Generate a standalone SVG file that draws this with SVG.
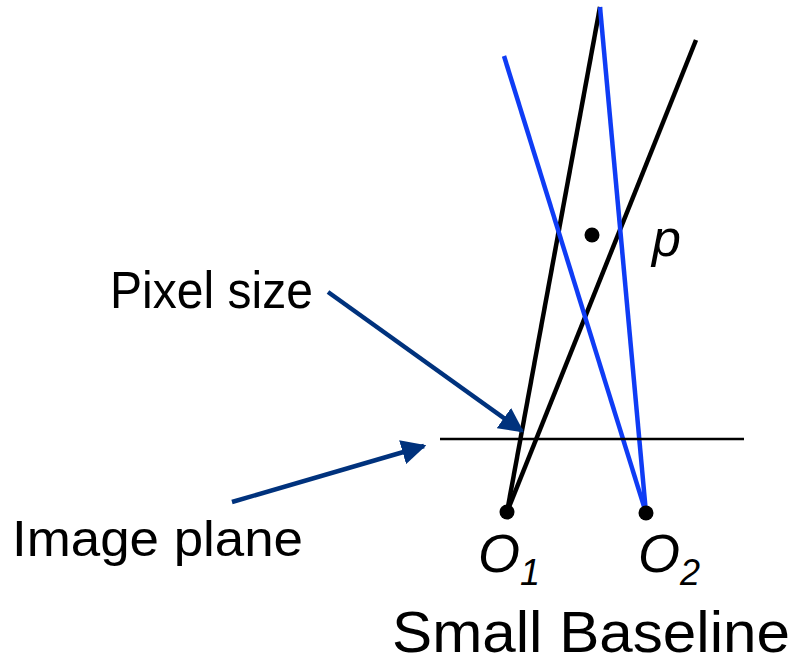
<svg xmlns="http://www.w3.org/2000/svg" width="797" height="664" viewBox="0 0 797 664">
<defs>
<style>
.ray{stroke:#000;stroke-width:4.5;fill:none;stroke-linecap:butt}
.blue{stroke:#0f3cf5;stroke-width:4.5;fill:none}
.ptr{stroke:#00327d;stroke-width:4.5;fill:none}
.lbl{font-family:"Liberation Sans",Arial,sans-serif;fill:#000}
.it{font-family:"Liberation Sans",Arial,sans-serif;font-style:italic;fill:#000}
</style>
<marker id="ah" viewBox="0 0 10 10" refX="9" refY="5" markerWidth="5.5" markerHeight="5.5" markerUnits="strokeWidth" orient="auto">
<path d="M0,0 L10,5 L0,10 z" fill="#00327d"/>
</marker>
</defs>
<rect width="797" height="664" fill="#fff"/>
<g id="connectors">
<line class="ray" x1="507" y1="512" x2="600" y2="7"/>
<line class="ray" x1="507" y1="512" x2="696" y2="40"/>
<line class="blue" x1="646" y1="513" x2="600" y2="7"/>
<line class="blue" x1="646" y1="513" x2="504" y2="56"/>
<line x1="440" y1="439" x2="744" y2="439" stroke="#000" stroke-width="2.5"/>
<line class="ptr" x1="328" y1="292" x2="522" y2="431" marker-end="url(#ah)"/>
<line class="ptr" x1="232" y1="502" x2="424" y2="446" marker-end="url(#ah)"/>
</g>
<g id="O1">
<circle cx="507" cy="512" r="7.5" fill="#000"/>
<text class="it" x="478" y="572" font-size="54">O<tspan font-size="36" dy="13">1</tspan></text>
</g>
<g id="O2">
<circle cx="646" cy="513" r="7.5" fill="#000"/>
<text class="it" x="638" y="572" font-size="54">O<tspan font-size="36" dy="13">2</tspan></text>
</g>
<g id="p">
<circle cx="592" cy="235" r="7.5" fill="#000"/>
<text class="it" x="652" y="256" font-size="52">p</text>
</g>
<g id="pixel-size">
<text class="lbl" x="110" y="308" font-size="52" textLength="203" lengthAdjust="spacingAndGlyphs">Pixel size</text>
</g>
<g id="image-plane">
<text class="lbl" x="12" y="556" font-size="50" textLength="291" lengthAdjust="spacingAndGlyphs">Image plane</text>
</g>
<g id="small-baseline">
<text class="lbl" x="392" y="652" font-size="58" textLength="398" lengthAdjust="spacingAndGlyphs">Small Baseline</text>
</g>
</svg>
